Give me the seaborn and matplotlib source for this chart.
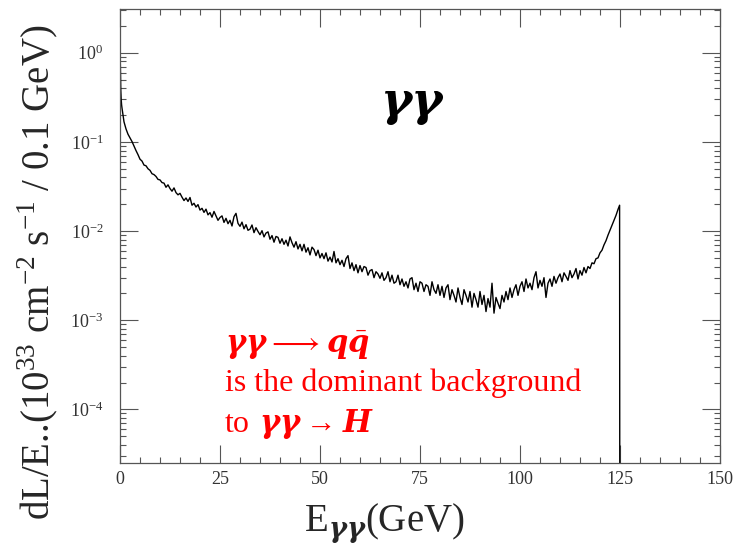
import numpy as np
import pandas as pd
import matplotlib
matplotlib.use("Agg")
import matplotlib.pyplot as plt
import matplotlib.ticker as mticker
import seaborn as sns

# ---- data ----
e_low = [0.05, 0.1, 0.15, 0.2, 0.3, 0.4]
v_low = [0.9, 0.65, 0.48, 0.38, 0.30, 0.26]

# values at 0.5 GeV steps from 0.5 to 124.5 GeV, in units of 1e-3
v_main_milli = [
    240, 168, 140, 122, 111, 101, 90, 80, 72, 64,
    61, 55, 54, 50, 48, 44, 43, 41, 38, 37.5,
    35, 34.5, 31, 33, 30, 28, 30.5, 27, 25.5, 26.5,
    24, 22, 23.5, 21.5, 23.8, 19.5, 20.5, 18.6, 19.8, 17.2,
    18, 16.2, 17.6, 15.2, 16.1, 14.3, 16.6, 14.8, 13.2, 14.2,
    14.8, 12.5, 13.9, 12.1, 13.2, 11.4, 14.5, 15.8, 12.2, 11.3,
    12.6, 10.6, 11.8, 10.2, 10.5, 11.7, 9.6, 10.9, 9.9, 9.1,
    10.1, 8.6, 9.5, 9.8, 8.1, 8.9, 7.5, 8.7, 8.5, 7.3,
    8.2, 7.1, 7.9, 6.8, 8.6, 7.4, 6.6, 7.6, 6.3, 7.1,
    6.0, 7.1, 5.8, 6.5, 5.4, 6.6, 6.2, 5.3, 6.1, 5.0,
    5.6, 4.9, 5.7, 4.6, 5.1, 4.5, 5.9, 4.4, 4.9, 4.2,
    4.7, 4.0, 4.9, 5.3, 3.8, 4.4, 3.6, 4.2, 3.4, 4.1,
    3.5, 4.0, 3.9, 3.2, 3.6, 3.7, 3.0, 3.5, 3.3, 2.95,
    3.4, 2.8, 3.0, 3.5, 2.7, 3.2, 2.6, 2.7, 3.2, 2.5,
    2.9, 2.4, 2.7, 2.3, 2.9, 3.0, 2.2, 2.6, 2.1, 2.7,
    2.6, 2.1, 2.5, 2.4, 1.9, 2.7, 2.2, 2.0, 2.5, 1.9,
    2.4, 1.8, 2.3, 2.5, 1.7, 2.2, 1.9, 1.6, 2.3, 1.8,
    1.5, 2.2, 1.9, 1.6, 2.1, 1.4, 2.0, 1.7, 1.4, 2.1,
    1.5, 1.9, 1.25, 1.75, 1.4, 2.6, 1.2, 1.8, 1.55, 1.35,
    1.9, 1.6, 2.1, 1.7, 2.3, 1.8, 2.2, 2.5, 1.9, 2.4,
    2.7, 2.1, 2.9, 2.3, 2.6, 2.2, 3.0, 3.5, 2.3, 2.8,
    2.4, 3.0, 1.8, 2.6, 2.9, 2.4, 3.1, 2.6, 3.0, 3.3,
    2.7, 3.4, 3.1, 2.8, 3.6, 3.0, 3.3, 3.8, 2.9, 3.6,
    3.2, 3.9, 3.4, 4.0, 3.8, 4.4, 4.3, 4.9, 5.0, 5.7,
    6.1, 7.0, 7.8, 9.0, 10.2, 11.5, 13.2, 15.0, 17.5,
]
e_edge = [124.9, 125.0]          # last bin and kinematic cut-off
v_edge = [0.0195, 1e-9]

x_ticks = [0, 25, 50, 75, 100, 125, 150]

e_main = list(0.5 + 0.5 * np.arange(len(v_main_milli)))
v_main = [v * 1e-3 for v in v_main_milli]

df = pd.DataFrame({
    "E": e_low + e_main + e_edge,
    "L": v_low + v_main + v_edge,
})

# ---- style ----
sns.set_style("ticks")
plt.rcParams["font.family"] = ["Liberation Serif", "DejaVu Serif"]
plt.rcParams["mathtext.fontset"] = "custom"
plt.rcParams["mathtext.rm"] = "Liberation Serif"
plt.rcParams["mathtext.it"] = "DejaVu Serif:italic:bold"
plt.rcParams["mathtext.bf"] = "Liberation Serif:bold"

fig = plt.figure(figsize=(7.37, 5.51), dpi=100)
ax = fig.add_axes([120 / 737, 88 / 551, 600 / 737, 454 / 551])

sns.lineplot(data=df, x="E", y="L", color="black", linewidth=1.0,
             estimator=None, ax=ax)

ax.set_yscale("log")
ax.set_xlim(0, 150)
ax.set_ylim(2.5e-5, 3.1)

ax.set_xticks(x_ticks)
ax.xaxis.set_minor_locator(mticker.MultipleLocator(5))
ax.yaxis.set_major_locator(mticker.LogLocator(base=10, numticks=10))
ax.yaxis.set_minor_locator(mticker.LogLocator(base=10, subs=np.arange(2, 10), numticks=20))
ax.yaxis.set_minor_formatter(mticker.NullFormatter())

for sp in ax.spines.values():
    sp.set_color("#555555")
    sp.set_linewidth(0.9)
    sp.set_visible(True)

ax.tick_params(which="both", direction="in", top=True, right=True,
               color="#555555", width=0.8, labelsize=13, labelcolor="#333333")
ax.tick_params(which="major", length=13)
ax.tick_params(axis="x", which="major", pad=6)
ax.tick_params(axis="y", which="major", pad=12)
ax.tick_params(which="minor", length=4.5)

ax.set_xlabel(r"E$_{\gamma\gamma}$(GeV)", fontsize=28)
ax.xaxis.set_label_coords(0.44, -0.085)
ax.set_ylabel(r"dL/E..(10$^{33}$ cm$^{-2}$ s$^{-1}$ / 0.1 GeV)", fontsize=28)
ax.yaxis.set_label_coords(-0.1, 0.42)

ax.text(0.487, 0.795, "γγ", transform=ax.transAxes,
        fontsize=34, color="black", ha="center", va="center",
        family="DejaVu Serif", style="italic", weight="bold")

red = "#ff0000"
ax.text(0.175, 0.258, r"$\gamma\gamma \longrightarrow q\bar{q}$", transform=ax.transAxes,
        fontsize=22, color=red, ha="left", va="center")
ax.text(0.175, 0.176, "is the dominant background", transform=ax.transAxes,
        fontsize=23, color=red, ha="left", va="center")
ax.text(0.175, 0.085, "to", transform=ax.transAxes,
        fontsize=23, color=red, ha="left", va="center")
ax.text(0.232, 0.085, r"$\gamma\gamma \rightarrow H$", transform=ax.transAxes,
        fontsize=22, color=red, ha="left", va="center")

fig.savefig("out.png", dpi=100)
